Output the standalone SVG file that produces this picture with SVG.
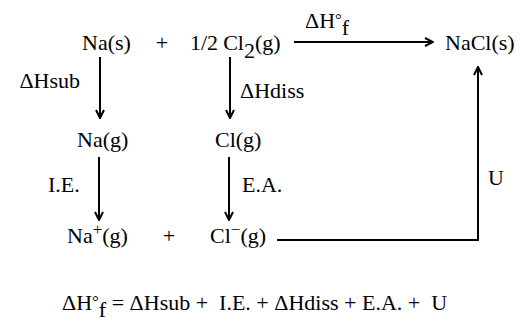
<svg xmlns="http://www.w3.org/2000/svg" width="520" height="324" viewBox="0 0 520 324">
  <style>
    text { font-family: "Liberation Serif", "Times New Roman", serif; font-size: 22px; fill: #000; }
    .sup { font-size: 17px; }
    .pre { white-space: pre; }
    .edge { stroke: #000; stroke-width: 2; fill: none; }
  </style>
  <defs>
    <marker id="head" viewBox="0 0 10 10" refX="9" refY="5" markerWidth="10" markerHeight="10" markerUnits="userSpaceOnUse" orient="auto">
      <path d="M1,1 L9,5 L1,9" fill="none" stroke="#000" stroke-width="2"/>
    </marker>
  </defs>

  <!-- species -->
  <g id="na-s"><text x="82" y="50">Na(s)</text></g>
  <g id="plus-top"><text x="162" y="50" text-anchor="middle">+</text></g>
  <g id="cl2-g"><text x="190" y="50">1/2<tspan dx="5">Cl</tspan><tspan dy="8">2</tspan><tspan dy="-8">(g)</tspan></text></g>
  <g id="nacl-s"><text x="445" y="50">NaCl(s)</text></g>
  <g id="na-g"><text x="77" y="147">Na(g)</text></g>
  <g id="cl-g"><text x="215" y="147">Cl(g)</text></g>
  <g id="na-ion"><text x="67" y="243">Na<tspan class="sup" dy="-8">+</tspan><tspan dy="8">(g)</tspan></text></g>
  <g id="plus-bottom"><text x="169" y="243" text-anchor="middle">+</text></g>
  <g id="cl-ion"><text x="210" y="243">Cl<tspan class="sup" dy="-8">−</tspan><tspan dy="8">(g)</tspan></text></g>

  <!-- connectors -->
  <g id="connectors">
    <line class="edge" x1="294" y1="42" x2="433" y2="42" marker-end="url(#head)"/>
    <line class="edge" x1="100" y1="57" x2="100" y2="118" marker-end="url(#head)"/>
    <line class="edge" x1="230" y1="57" x2="230" y2="118" marker-end="url(#head)"/>
    <line class="edge" x1="99" y1="157" x2="99" y2="220" marker-end="url(#head)"/>
    <line class="edge" x1="229" y1="157" x2="229" y2="220" marker-end="url(#head)"/>
    <polyline class="edge" points="277,240 478,240 478,67" marker-end="url(#head)"/>
  </g>

  <!-- step labels -->
  <g id="labels">
    <text x="305" y="28">ΔH<tspan class="sup" dy="-3">°</tspan><tspan dy="10">f</tspan></text>
    <text x="80" y="88" text-anchor="end">ΔHsub</text>
    <text x="240" y="98">ΔHdiss</text>
    <text x="48" y="192">I.E.</text>
    <text x="242" y="192">E.A.</text>
    <text x="488" y="185">U</text>
  </g>

  <!-- overall balance -->
  <g id="equation">
    <text class="pre" x="62" y="310">ΔH<tspan class="sup" dy="-3">°</tspan><tspan dy="10">f</tspan><tspan dy="-7"> = ΔHsub +  I.E. + ΔHdiss + E.A. +  U</tspan></text>
  </g>
</svg>
